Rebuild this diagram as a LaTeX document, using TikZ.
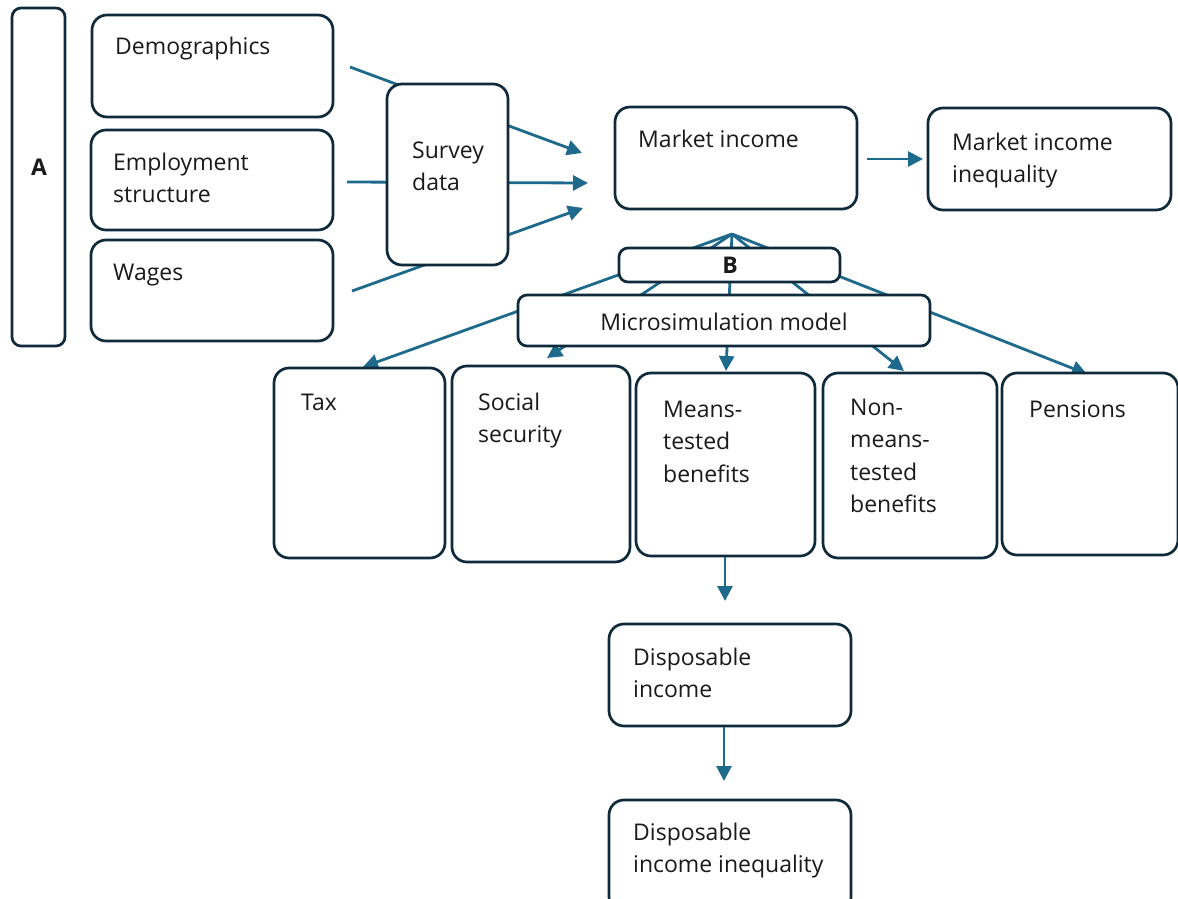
\documentclass[tikz,border=0pt]{standalone}
\usepackage{fontspec}
\setmainfont{Open Sans}
\usetikzlibrary{arrows.meta}
\definecolor{boxc}{HTML}{0E2A3B}
\definecolor{arrc}{HTML}{1D6A8C}
\definecolor{txtc}{HTML}{1A1A1A}
\pgfdeclarelayer{paper}
\pgfdeclarelayer{bg}
\pgfsetlayers{paper,bg,main}
\newcommand\mybox[6][]{\node[box,#1,minimum width={(#4-#2)*1pt},minimum height={(#5-#3)*1pt}] (#6) at ({(#2+#4)/2},{(#3+#5)/2}) {};}
\tikzset{
  box/.style={draw=boxc, line width=2.7pt, rounded corners=15pt, fill=white, inner sep=0pt},
  smallbox/.style={rounded corners=9pt},
  txt/.style={anchor=base west, inner sep=0pt, text=txtc, font=\fontsize{23}{32.5}\selectfont},
  ctxt/.style={anchor=base, inner sep=0pt, text=txtc, font=\fontsize{23}{32.5}\selectfont},
  arr/.style={draw=arrc, line width=2.8pt, -{Triangle[length=15pt,width=15pt]}},
}
\begin{document}
\begin{tikzpicture}[x=1pt,y=-1pt]
\useasboundingbox (0,0) rectangle (1178,899);
\begin{pgfonlayer}{paper}
\fill[white] (0,0) rectangle (1178,899);
\end{pgfonlayer}
% boxes
\mybox[smallbox]{12}{8}{65}{346}{A}
\mybox{92}{15}{333}{117}{demo}
\mybox{91}{130}{333}{230}{emp}
\mybox{91}{240}{333}{341}{wages}
\mybox{387}{84}{508}{265}{survey}
\mybox{615}{107}{857}{209}{market}
\mybox{928}{108}{1171}{210}{mii}
\mybox[smallbox]{619}{248}{840}{282}{B}
\mybox[smallbox]{518}{295}{930}{346}{micro}
\mybox{274}{368}{445}{558}{tax}
\mybox{452}{366}{630}{562}{social}
\mybox{636}{373}{815}{556}{means}
\mybox{823}{373}{997}{558}{nonmeans}
\mybox{1002}{373}{1178}{555}{pensions}
\mybox{609}{624}{851}{726}{disp}
\mybox{609}{800}{851}{912}{dii}
% texts
\node[ctxt, font=\fontsize{23}{32.5}\selectfont\bfseries] (A-t) at (39,175) {A};
\node[ctxt, font=\fontsize{23}{32.5}\selectfont\bfseries] (B-t) at (730,273) {B};
\node[txt] (demo-t) at (115,55) {Demographics};
\node[txt] (emp-t) at (113,170) {\vtop{\hbox{Employment}\hbox{structure}}};
\node[txt] (wages-t) at (113,280) {Wages};
\node[txt] (survey-t) at (412,158) {\vtop{\hbox{Survey}\hbox{data}}};
\node[txt] (market-t) at (638,147) {Market income};
\node[txt] (mii-t) at (952,150) {\vtop{\hbox{Market income}\hbox{inequality}}};
\node[ctxt] (micro-t) at (724,330) {Microsimulation model};
\node[txt] (tax-t) at (301,410) {Tax};
\node[txt] (social-t) at (478,410) {\vtop{\hbox{Social}\hbox{security}}};
\node[txt] (means-t) at (663,417) {\vtop{\hbox{Means-}\hbox{tested}\hbox{benefits}}};
\node[txt] (nonmeans-t) at (850,415) {\vtop{\hbox{Non-}\hbox{means-}\hbox{tested}\hbox{benefits}}};
\node[txt] (pensions-t) at (1029,417) {Pensions};
\node[txt] (disp-t) at (633,665) {\vtop{\hbox{Disposable}\hbox{income}}};
\node[txt] (dii-t) at (633,840) {\vtop{\hbox{Disposable}\hbox{income inequality}}};
% connector end points
\coordinate (s1) at (350,67);
\coordinate (s2) at (347,182);
\coordinate (s3) at (352,291);
\coordinate (e1) at (582,153);
\coordinate (e2) at (588,183);
\coordinate (e3) at (583,208);
\coordinate (apex) at (732,234);
\coordinate (ttax) at (363,367);
\coordinate (tsocial) at (547,358);
\coordinate (tmeans) at (726,371);
\coordinate (tnon) at (904,371);
\coordinate (tpens) at (1087,374);
\coordinate (m1) at (867,159);
\coordinate (m2) at (923,159);
\coordinate (d1) at (725,557);
\coordinate (d2) at (725,601);
\coordinate (d3) at (724,727);
\coordinate (d4) at (724,781);
\begin{pgfonlayer}{bg}
\draw[arr] (s1) -- (e1);
\draw[arr] (s2) -- (e2);
\draw[arr] (s3) -- (e3);
\draw[arr] (apex) -- (ttax);
\draw[arr] (apex) -- (tsocial);
\draw[arr] (apex) -- (tmeans);
\draw[arr] (apex) -- (tnon);
\draw[arr] (apex) -- (tpens);
\end{pgfonlayer}
\draw[arr] (m1) -- (m2);
\draw[arr] (d1) -- (d2);
\draw[arr] (d3) -- (d4);
\end{tikzpicture}
\end{document}
